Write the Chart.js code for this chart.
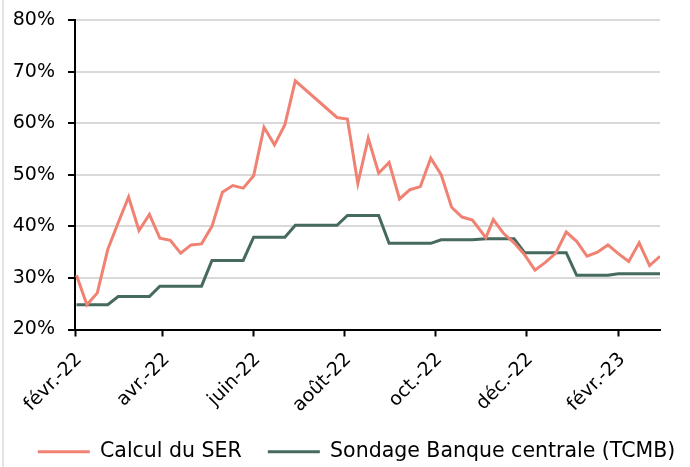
<!DOCTYPE html>
<html lang="fr">
<head>
<meta charset="UTF-8">
<title>Anticipations d'inflation - Turquie</title>
<script src="https://cdn.jsdelivr.net/npm/chart.js@4"></script>
<style>
  html, body { margin: 0; padding: 0; background: #fff; }
  #wrap { position: relative; width: 690px; height: 467px; overflow: hidden; }
  #wrap:before { content: ""; position: absolute; left: 2px; top: 0; bottom: 0; width: 2px; background: #e4e4e4; }
</style>
</head>
<body>
<div id="wrap"><canvas id="chart" width="690" height="467"></canvas></div>
<script>
// weekly observations
const dates = [
  "2022-02-02", "2022-02-09", "2022-02-16", "2022-02-23", "2022-03-02", "2022-03-09", "2022-03-16", "2022-03-23",
  "2022-03-30", "2022-04-06", "2022-04-13", "2022-04-20", "2022-04-27", "2022-05-04", "2022-05-11", "2022-05-18",
  "2022-05-25", "2022-06-01", "2022-06-08", "2022-06-15", "2022-06-22", "2022-06-29", "2022-07-06", "2022-07-13",
  "2022-07-20", "2022-07-27", "2022-08-03", "2022-08-10", "2022-08-17", "2022-08-24", "2022-08-31", "2022-09-07",
  "2022-09-14", "2022-09-21", "2022-09-28", "2022-10-05", "2022-10-12", "2022-10-19", "2022-10-26", "2022-11-04",
  "2022-11-09", "2022-11-16", "2022-11-23", "2022-11-30", "2022-12-07", "2022-12-14", "2022-12-21", "2022-12-28",
  "2023-01-04", "2023-01-11", "2023-01-18", "2023-01-25", "2023-02-01", "2023-02-08", "2023-02-15", "2023-02-22",
  "2023-03-01"
];

// Calcul du SER (%), null = no observation
const serValues = [
  30.5, 24.8, 27.1, 35.5, 40.7, 45.7, 39.2, 42.3,
  37.7, 37.3, 34.8, 36.4, 36.6, 40.0, 46.6, 47.9,
  47.4, 49.8, 59.2, 55.8, 59.7, 68.2, null, null,
  null, 61.1, 60.8, 48.3, 57.1, 50.3, 52.4, 45.3,
  47.1, 47.7, 53.2, 50.0, 43.7, 41.8, 41.2, 37.8,
  41.3, 38.6, 36.8, 34.5, 31.5, 33.0, 34.8, 38.9,
  37.1, 34.2, 35.0, 36.4, 34.7, 33.2, 36.8, 32.4,
  34.2
];

// Sondage Banque centrale (TCMB) (%)
const tcmbValues = [
  24.8, 24.8, 24.8, 24.8, 26.4, 26.4, 26.4, 26.4,
  28.4, 28.4, 28.4, 28.4, 28.4, 33.4, 33.4, 33.4,
  33.4, 37.9, 37.9, 37.9, 37.9, 40.2, 40.2, 40.2,
  40.2, 40.2, 42.1, 42.1, 42.1, 42.1, 36.7, 36.7,
  36.7, 36.7, 36.7, 37.4, 37.4, 37.4, 37.4, 37.6,
  37.6, 37.6, 37.6, 34.9, 34.9, 34.9, 34.9, 34.9,
  30.5, 30.5, 30.5, 30.5, 30.8, 30.8, 30.8, 30.8,
  30.8
];

const seriesNames = ["Calcul du SER", "Sondage Banque centrale (TCMB)"];
const tickDates = ["2022-02-01", "2022-04-01", "2022-06-01", "2022-08-01", "2022-10-01", "2022-12-01", "2023-02-01"];
const tickLabels = ["févr.-22", "avr.-22", "juin-22", "août-22", "oct.-22", "déc.-22", "févr.-23"];
const axisStart = "2022-02-01";
const axisEnd = "2023-03-01";

function dayOf(d) {
  return (Date.parse(d) - Date.parse(axisStart)) / 86400000;
}

const tickFont = { family: "'DejaVu Sans', sans-serif", size: 19 };
const legendFont = { family: "'DejaVu Sans', sans-serif", size: 20.5 };

new Chart(document.getElementById("chart"), {
  type: "line",
  data: {
    datasets: [
      {
        // trailing spaces widen the gap between the two legend entries
        label: seriesNames[0] + "  ",
        data: dates.map((d, i) => ({ x: dayOf(d), y: serValues[i] })),
        borderColor: "#f08273",
        backgroundColor: "#f08273",
        borderWidth: 3,
        pointRadius: 0,
        spanGaps: true,
        tension: 0
      },
      {
        label: seriesNames[1],
        data: dates.map((d, i) => ({ x: dayOf(d), y: tcmbValues[i] })),
        borderColor: "#466a5f",
        backgroundColor: "#466a5f",
        borderWidth: 3,
        pointRadius: 0,
        tension: 0
      }
    ]
  },
  options: {
    responsive: false,
    animation: false,
    devicePixelRatio: 1,
    layout: { padding: { left: 12, right: -11, top: 20, bottom: -5 } },
    plugins: {
      tooltip: { enabled: false },
      legend: {
        position: "bottom",
        labels: {
          usePointStyle: true,
          pointStyle: "line",
          pointStyleWidth: 52,
          color: "#000",
          font: legendFont,
          padding: 13
        }
      }
    },
    scales: {
      x: {
        type: "linear",
        min: 0,
        max: dayOf(axisEnd),
        afterBuildTicks: s => { s.ticks = tickDates.map(d => ({ value: dayOf(d) })); },
        afterFit: s => { s.height = 99; },
        ticks: {
          callback: (v, i) => tickLabels[i],
          autoSkip: false,
          minRotation: 45,
          maxRotation: 45,
          color: "#000",
          font: tickFont,
          padding: 12,
          labelOffset: 4
        },
        grid: { drawOnChartArea: false, tickLength: 7, tickColor: "#000", tickWidth: 2 },
        border: { color: "#000", width: 2 }
      },
      y: {
        min: 20,
        max: 80,
        afterFit: s => { s.width = 63; s.paddingTop = 11; s.paddingBottom = 11; },
        ticks: {
          stepSize: 10,
          callback: v => v + "%",
          color: "#000",
          font: tickFont,
          padding: 13
        },
        grid: { color: "#d9d9d9", lineWidth: 2, tickLength: 7, tickColor: "#000", tickWidth: 2 },
        border: { color: "#000", width: 2 }
      },
      // empty right-hand strip so the plot ends where the reference does
      yRight: {
        position: "right",
        afterFit: s => { s.width = 41; },
        ticks: { display: false },
        grid: { display: false },
        border: { display: false }
      }
    }
  }
});
</script>
</body>
</html>
